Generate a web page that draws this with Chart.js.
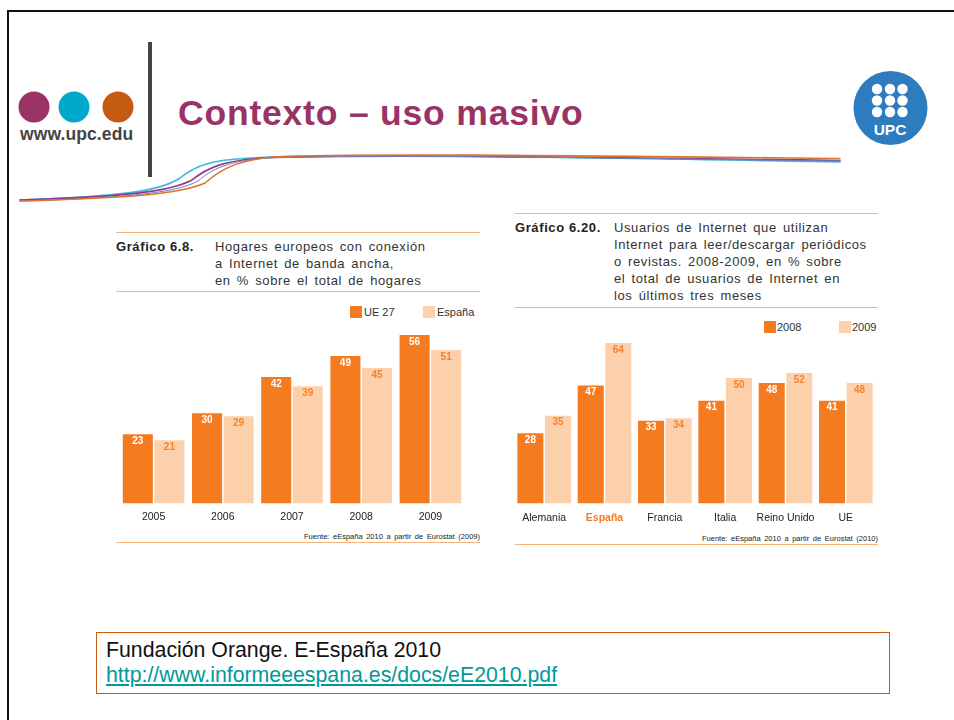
<!DOCTYPE html>
<html>
<head>
<meta charset="utf-8">
<script src="https://cdn.jsdelivr.net/npm/chart.js@4"></script>
<style>
  html, body { margin:0; padding:0; background:#fff; }
  body { width:954px; height:720px; position:relative; overflow:hidden; font-family:"Liberation Sans", Arial, Helvetica, sans-serif; }
  .abs { position:absolute; }
  .frame { left:7px; top:10px; width:1000px; height:800px; border:2px solid #111; box-sizing:border-box; }
  .title { left:178px; top:93px; font-size:35.5px; font-weight:bold; color:#993366; white-space:nowrap; line-height:40px; letter-spacing:0.8px; }
  .web { left:20px; top:124px; font-size:17.5px; font-weight:bold; color:#444; white-space:nowrap; line-height:20px; letter-spacing:0.1px; }
  .vbar { left:148px; top:42px; width:4px; height:135px; background:#444; }
  .rule { height:0; border-top:1.5px solid #F9B47C; }
  .ghead { font-size:13px; font-weight:bold; color:#222; letter-spacing:0.6px; line-height:17px; white-space:nowrap; }
  .gdesc { font-size:13px; color:#333; letter-spacing:0.6px; word-spacing:2px; white-space:nowrap; }
  .sq { width:12px; height:12px; }
  .leg { font-size:11px; color:#333; line-height:12px; white-space:nowrap; }
  .src { font-size:7.5px; color:#222; word-spacing:1.5px; white-space:nowrap; text-align:right; line-height:10px; }
  .box { left:96px; top:632px; width:794px; height:62px; border:1px solid #C55A11; box-sizing:border-box; }
  .boxt { left:106px; font-size:21.3px; line-height:25px; white-space:nowrap; color:#111; }
  .link { color:#009999; text-decoration:underline; }
</style>
</head>
<body>
<div class="abs frame"></div>

<!-- header graphics -->
<svg class="abs" style="left:0;top:0" width="954" height="220">
  <circle cx="34" cy="107" r="15.5" fill="#993366"/>
  <circle cx="74" cy="107" r="15.5" fill="#00A9C9"/>
  <circle cx="118" cy="107" r="15.5" fill="#C55A11"/>
  <g fill="none" stroke-width="1.6" stroke-linecap="round">
    <path d="M20,200 C110,197 160,192 180,178 C195,166 210,160 250,158 C350,153 600,158 840,162" stroke="#3FB8D8"/>
    <path d="M20,200 C120,197 170,192 192,180 C207,168 222,161 262,158 C360,154 600,157 840,160.5" stroke="#8E3C8C"/>
    <path d="M20,201 C125,198 176,193 198,181 C212,169 228,161 266,158 C365,154 600,158 840,161" stroke="#6C7FC0" stroke-width="1"/>
    <path d="M20,201 C130,198 180,194 205,183 C220,170 235,161 272,157 C370,153 600,156 840,158.5" stroke="#D9752E"/>
  </g>
  <circle cx="890.5" cy="108" r="37" fill="#2E7CC0"/>
  <g fill="#fff">
    <circle cx="877" cy="89" r="5.2"/><circle cx="890" cy="89" r="5.2"/><circle cx="902.5" cy="89" r="5.2"/>
    <circle cx="877" cy="100.5" r="5.2"/><circle cx="890" cy="100.5" r="5.2"/><circle cx="902.5" cy="100.5" r="5.2"/>
    <circle cx="877" cy="112" r="5.2"/><circle cx="890" cy="112" r="5.2"/><circle cx="902.5" cy="112" r="5.2"/>
    <text x="890" y="134.5" text-anchor="middle" font-family="Liberation Sans, Arial" font-weight="bold" font-size="15.5">UPC</text>
  </g>
</svg>
<div class="abs vbar"></div>
<div class="abs title">Contexto – uso masivo</div>
<div class="abs web">www.upc.edu</div>

<!-- chart 1 header -->
<div class="abs rule" style="left:116px;top:232px;width:364px"></div>
<div class="abs ghead" style="left:116px;top:238px">Gráfico 6.8.</div>
<div class="abs gdesc" style="left:215px;top:238px;line-height:17px">Hogares europeos con conexión<br>a Internet de banda ancha,<br>en % sobre el total de hogares</div>
<div class="abs rule" style="left:116px;top:291px;width:364px"></div>
<div class="abs sq" style="left:350px;top:306px;background:#F47B20"></div>
<div class="abs leg" style="left:364px;top:306px">UE 27</div>
<div class="abs sq" style="left:423px;top:306px;background:#FDD0AC"></div>
<div class="abs leg" style="left:437px;top:306px">España</div>
<div class="abs src" style="left:200px;top:532px;width:280px">Fuente: eEspaña 2010 a partir de Eurostat (2009)</div>
<div class="abs rule" style="left:116px;top:542px;width:364px"></div>

<!-- chart 2 header -->
<div class="abs rule" style="left:515px;top:213px;width:363px"></div>
<div class="abs ghead" style="left:515px;top:218.5px">Gráfico 6.20.</div>
<div class="abs gdesc" style="left:614px;top:218.5px;line-height:17.2px">Usuarios de Internet que utilizan<br>Internet para leer/descargar periódicos<br>o revistas. 2008-2009, en % sobre<br>el total de usuarios de Internet en<br>los últimos tres meses</div>
<div class="abs rule" style="left:515px;top:307px;width:363px"></div>
<div class="abs sq" style="left:764px;top:321px;background:#F47B20"></div>
<div class="abs leg" style="left:777px;top:321px">2008</div>
<div class="abs sq" style="left:839px;top:321px;background:#FDD0AC"></div>
<div class="abs leg" style="left:852px;top:321px">2009</div>
<div class="abs src" style="left:598px;top:534px;width:280px">Fuente: eEspaña 2010 a partir de Eurostat (2010)</div>
<div class="abs rule" style="left:515px;top:544px;width:363px"></div>

<canvas id="c1" class="abs" style="left:119px;top:323px" width="346" height="207"></canvas>
<canvas id="c2" class="abs" style="left:514px;top:333px" width="362" height="199"></canvas>

<div class="abs box"></div>
<div class="abs boxt" style="top:638px">Fundación Orange. E-España 2010</div>
<div class="abs boxt" style="top:663px"><span class="link">http://www.informeeespana.es/docs/eE2010.pdf</span></div>

<script>
const years = ['2005', '2006', '2007', '2008', '2009'];
const ue27 = [23, 30, 42, 49, 56];
const espana = [21, 29, 39, 45, 51];

const countries = ['Alemania', 'España', 'Francia', 'Italia', 'Reino Unido', 'UE'];
const v2008 = [28, 47, 33, 41, 48, 41];
const v2009 = [35, 64, 34, 50, 52, 48];

const DARK = '#F47B20';
const LIGHT = '#FDD0AC';
const FONT = '"Liberation Sans", Arial, Helvetica, sans-serif';

const valueLabels = {
  id: 'valueLabels',
  afterDatasetsDraw(chart) {
    const ctx = chart.ctx;
    ctx.save();
    ctx.font = 'bold 10px ' + FONT;
    ctx.textAlign = 'center';
    ctx.textBaseline = 'middle';
    chart.data.datasets.forEach((ds, di) => {
      const meta = chart.getDatasetMeta(di);
      ctx.fillStyle = di === 0 ? '#ffffff' : '#F4822F';
      meta.data.forEach((bar, i) => {
        ctx.fillText(String(ds.data[i]), bar.x, bar.y + 7);
      });
    });
    ctx.restore();
  }
};

function makeChart(id, labels, a, b, names, max, catPct, barPct, pad, tickColor, tickFont) {
  return new Chart(document.getElementById(id), {
    type: 'bar',
    data: {
      labels: labels,
      datasets: [
        { label: names[0], data: a, backgroundColor: DARK, borderWidth: 0, categoryPercentage: catPct, barPercentage: barPct },
        { label: names[1], data: b, backgroundColor: LIGHT, borderWidth: 0, categoryPercentage: catPct, barPercentage: barPct }
      ]
    },
    options: {
      responsive: false,
      maintainAspectRatio: false,
      animation: false,
      devicePixelRatio: 1,
      layout: { padding: 0 },
      plugins: { legend: { display: false }, tooltip: { enabled: false } },
      scales: {
        x: {
          grid: { display: false, drawTicks: false, tickLength: 0 },
          border: { display: false },
          ticks: { padding: pad, color: tickColor, font: tickFont, maxRotation: 0, autoSkip: false }
        },
        y: { display: false, min: 0, max: max }
      }
    },
    plugins: [valueLabels]
  });
}

makeChart('c1', years, ue27, espana, ['UE 27', 'España'], 60, 0.912, 0.952, 7,
  '#222', { family: FONT, size: 10.5 });

makeChart('c2', countries, v2008, v2009, ['2008', '2009'], 68, 0.914, 0.945, 8,
  (ctx) => ctx.index === 1 ? DARK : '#222',
  (ctx) => ({ family: FONT, size: 10.5, weight: ctx.index === 1 ? 'bold' : 'normal' }));
</script>
</body>
</html>
